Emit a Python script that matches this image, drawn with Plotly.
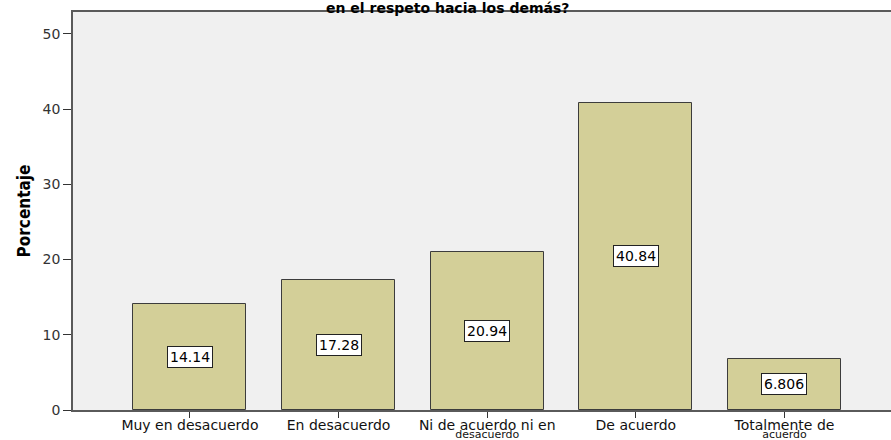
import plotly.graph_objects as go

categories = ["Muy en desacuerdo", "En desacuerdo", "Ni de acuerdo ni en<br>desacuerdo",
              "De acuerdo", "Totalmente de<br>acuerdo"]
values = [14.14, 17.28, 20.94, 40.84, 6.806]
labels = ["14.14", "17.28", "20.94", "40.84", "6.806"]
y_ticks = [0, 10, 20, 30, 40, 50]
title_text = "en el respeto hacia los demás?"
y_title = "Porcentaje"

x_idx = list(range(len(categories)))
first_lines = [c.split("<br>")[0] for c in categories]
second_lines = [c.split("<br>")[1] if "<br>" in c else "" for c in categories]
FONT = "DejaVu Sans, Liberation Sans, Arial"
XRANGE = [-0.787, 4.717]

fig = go.Figure()
fig.add_trace(go.Bar(
    x=x_idx, y=values, width=0.76,
    marker=dict(color="#d3cf98", line=dict(color="#3c3c3c", width=1)),
    hoverinfo="skip",
))
# invisible carrier trace so the second-line label axis is drawn
fig.add_trace(go.Scatter(x=x_idx, y=[0] * len(x_idx), xaxis="x2", yaxis="y",
                         mode="markers", marker=dict(opacity=0), hoverinfo="skip"))

for xi, v, lab in zip(x_idx, values, labels):
    fig.add_annotation(x=xi, y=v / 2, text=lab, showarrow=False,
                       font=dict(family=FONT, size=14, color="#000"),
                       bgcolor="white", bordercolor="#222", borderwidth=1, borderpad=2)

fig.add_annotation(xref="paper", yref="paper", x=0.458, y=1.0, yshift=14,
                   xanchor="center", yanchor="top",
                   text="<b>" + title_text + "</b>", showarrow=False,
                   font=dict(family=FONT, size=14, color="#000"))

fig.update_layout(
    width=891, height=440,
    margin=dict(l=73, r=0, t=12, b=30),
    paper_bgcolor="white", plot_bgcolor="#f0f0f0",
    showlegend=False,
    bargap=0,
    xaxis=dict(range=XRANGE, tickmode="array", tickvals=x_idx, ticktext=first_lines,
               automargin=False,
               showline=True, linecolor="#5a5a5a", linewidth=1.5, mirror=True,
               ticks="outside", ticklen=6, tickcolor="#333", tickwidth=1,
               ticklabelstandoff=-5,
               showgrid=False, zeroline=False,
               tickfont=dict(family=FONT, size=14, color="#111")),
    xaxis2=dict(range=XRANGE, overlaying="x", anchor="y", side="bottom",
                tickmode="array", tickvals=x_idx, ticktext=second_lines,
                automargin=False, showline=False, ticks="", showgrid=False, zeroline=False,
                ticklabelstandoff=16,
                tickfont=dict(family=FONT, size=11, color="#111")),
    yaxis=dict(range=[0, 52.9], tickvals=y_ticks, automargin=False,
               showline=True, linecolor="#5a5a5a", linewidth=1.5, mirror=False,
               ticks="outside", ticklen=8, tickcolor="#333", tickwidth=1,
               showgrid=False, zeroline=False,
               tickfont=dict(family=FONT, size=14, color="#333"),
               title=dict(text="<b>" + y_title + "</b>", standoff=8,
                          font=dict(family="Liberation Sans Narrow, DejaVu Sans Condensed, Liberation Sans", size=17, color="#000"))),
)

fig.write_html("out.html", config={"displayModeBar": False},
               post_script="document.body.style.margin='0';document.body.style.overflow='hidden';")
